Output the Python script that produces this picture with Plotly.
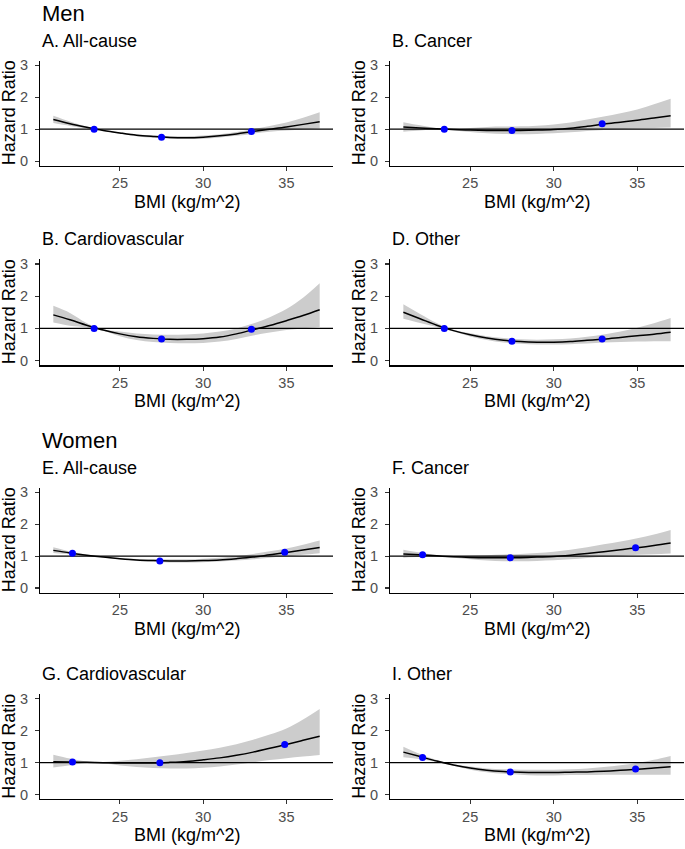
import plotly.graph_objects as go

# ---------------- data ----------------
BMI_GRID = [21, 22, 23, 24, 25, 26, 27, 28, 29, 30, 31, 32, 33, 34, 35, 36, 37]

PANEL_TITLES = ["A. All-cause", "B. Cancer", "B. Cardiovascular", "D. Other",
                "E. All-cause", "F. Cancer", "G. Cardiovascular", "I. Other"]
GROUP_TITLES = ["Men", "Women"]

# Men
A_hr = [1.30, 1.17, 1.06, 0.96, 0.88, 0.81, 0.77, 0.74, 0.73, 0.75, 0.79, 0.85, 0.93, 1.00, 1.07, 1.15, 1.23]
A_hi = [1.42, 1.24, 1.08, 0.97, 0.90, 0.84, 0.80, 0.78, 0.78, 0.80, 0.84, 0.91, 1.00, 1.10, 1.21, 1.36, 1.53]
A_lo = [1.19, 1.10, 1.03, 0.95, 0.86, 0.78, 0.73, 0.70, 0.69, 0.70, 0.74, 0.79, 0.86, 0.92, 0.96, 0.99, 1.02]

B_hr = [1.07, 1.04, 1.01, 0.99, 0.97, 0.96, 0.96, 0.96, 0.97, 0.99, 1.03, 1.09, 1.16, 1.22, 1.28, 1.35, 1.42]
B_hi = [1.22, 1.12, 1.03, 1.01, 1.04, 1.07, 1.08, 1.09, 1.11, 1.15, 1.21, 1.30, 1.40, 1.50, 1.62, 1.78, 1.95]
B_lo = [0.92, 0.96, 0.99, 0.96, 0.91, 0.87, 0.85, 0.84, 0.85, 0.87, 0.90, 0.94, 0.97, 1.00, 1.02, 1.04, 1.05]

C_hr = [1.42, 1.27, 1.10, 0.95, 0.83, 0.74, 0.69, 0.66, 0.66, 0.68, 0.73, 0.83, 0.96, 1.09, 1.24, 1.40, 1.58]
C_hi = [1.70, 1.48, 1.17, 0.97, 0.90, 0.84, 0.81, 0.80, 0.81, 0.84, 0.90, 1.00, 1.15, 1.35, 1.60, 1.95, 2.40]
C_lo = [1.18, 1.08, 1.03, 0.93, 0.76, 0.64, 0.58, 0.55, 0.54, 0.55, 0.59, 0.67, 0.78, 0.87, 0.95, 1.00, 1.04]

D_hr = [1.50, 1.30, 1.10, 0.93, 0.80, 0.70, 0.63, 0.59, 0.57, 0.57, 0.59, 0.63, 0.67, 0.72, 0.77, 0.82, 0.88]
D_hi = [1.75, 1.45, 1.17, 0.96, 0.85, 0.76, 0.70, 0.66, 0.65, 0.66, 0.69, 0.74, 0.81, 0.90, 1.02, 1.16, 1.32]
D_lo = [1.30, 1.17, 1.04, 0.90, 0.75, 0.64, 0.56, 0.52, 0.50, 0.50, 0.51, 0.53, 0.56, 0.58, 0.59, 0.60, 0.60]

# Women
E_hr = [1.18, 1.10, 1.03, 0.97, 0.92, 0.88, 0.86, 0.85, 0.85, 0.86, 0.88, 0.92, 0.97, 1.04, 1.11, 1.19, 1.27]
E_hi = [1.28, 1.15, 1.05, 0.98, 0.94, 0.91, 0.90, 0.90, 0.90, 0.92, 0.95, 1.00, 1.07, 1.15, 1.24, 1.36, 1.49]
E_lo = [1.10, 1.06, 1.01, 0.96, 0.90, 0.85, 0.82, 0.80, 0.80, 0.81, 0.83, 0.86, 0.90, 0.95, 1.00, 1.04, 1.09]

F_hr = [1.07, 1.04, 1.01, 0.98, 0.96, 0.95, 0.95, 0.95, 0.97, 0.99, 1.03, 1.08, 1.14, 1.20, 1.26, 1.33, 1.41]
F_hi = [1.20, 1.11, 1.03, 1.00, 1.01, 1.03, 1.05, 1.07, 1.10, 1.14, 1.20, 1.28, 1.37, 1.46, 1.56, 1.68, 1.82]
F_lo = [0.95, 0.98, 0.99, 0.95, 0.90, 0.86, 0.84, 0.84, 0.85, 0.87, 0.90, 0.94, 0.98, 1.01, 1.04, 1.06, 1.08]

G_hr = [1.03, 1.02, 1.01, 1.00, 0.99, 0.99, 0.99, 1.01, 1.04, 1.09, 1.15, 1.23, 1.33, 1.45, 1.57, 1.70, 1.83]
G_hi = [1.25, 1.13, 1.04, 1.02, 1.06, 1.11, 1.17, 1.23, 1.30, 1.38, 1.47, 1.58, 1.72, 1.88, 2.07, 2.35, 2.68]
G_lo = [0.85, 0.92, 0.98, 0.97, 0.91, 0.86, 0.83, 0.82, 0.82, 0.84, 0.88, 0.94, 1.01, 1.08, 1.14, 1.19, 1.24]

I_hr = [1.33, 1.19, 1.05, 0.93, 0.83, 0.76, 0.72, 0.70, 0.69, 0.69, 0.70, 0.71, 0.73, 0.76, 0.79, 0.83, 0.87]
I_hi = [1.50, 1.27, 1.08, 0.95, 0.88, 0.82, 0.79, 0.78, 0.78, 0.78, 0.79, 0.82, 0.86, 0.92, 0.99, 1.09, 1.21]
I_lo = [1.17, 1.11, 1.02, 0.90, 0.78, 0.70, 0.65, 0.62, 0.60, 0.60, 0.61, 0.61, 0.62, 0.62, 0.62, 0.62, 0.62]

MEN_POINT_BMI = [23.45, 27.5, 32.9]
WOMEN_POINT_BMI = [22.15, 27.4, 34.9]
A_pts = [1.00, 0.75, 0.93]
B_pts = [1.00, 0.96, 1.17]
C_pts = [1.00, 0.67, 0.97]
D_pts = [1.00, 0.60, 0.67]
E_pts = [1.09, 0.85, 1.12]
F_pts = [1.04, 0.95, 1.26]
G_pts = [1.02, 1.00, 1.57]
I_pts = [1.16, 0.71, 0.80]

REF_HR = 1
X_TICKS = [25, 30, 35]
Y_TICKS = [0, 1, 2, 3]
X_TITLE = "BMI (kg/m^2)"
Y_TITLE = "Hazard Ratio"

panels = [
    (A_hr, A_lo, A_hi, MEN_POINT_BMI, A_pts),
    (B_hr, B_lo, B_hi, MEN_POINT_BMI, B_pts),
    (C_hr, C_lo, C_hi, MEN_POINT_BMI, C_pts),
    (D_hr, D_lo, D_hi, MEN_POINT_BMI, D_pts),
    (E_hr, E_lo, E_hi, WOMEN_POINT_BMI, E_pts),
    (F_hr, F_lo, F_hi, WOMEN_POINT_BMI, F_pts),
    (G_hr, G_lo, G_hi, WOMEN_POINT_BMI, G_pts),
    (I_hr, I_lo, I_hi, WOMEN_POINT_BMI, I_pts),
]

# ---------------- layout geometry (pixels) ----------------
W, H = 685, 849
COLS = [(40, 333), (390, 684)]
ROWS = [(58, 164), (258, 365), (488, 594), (696, 802)]
X_RANGE = [20.2, 37.8]
Y_RANGE = [-0.15, 3.15]
FONT = "Liberation Sans, Arial, sans-serif"
RIBBON = "#CCCCCC"

fig = go.Figure()
layout = dict(
    width=W, height=H, autosize=False,
    margin=dict(l=0, r=0, t=0, b=0),
    paper_bgcolor="white", plot_bgcolor="white",
    showlegend=False,
    font=dict(family=FONT, color="black"),
)
annotations = []

for i, (hr, lo, hi, px, py) in enumerate(panels):
    r, c = divmod(i, 2)
    x0, x1 = COLS[c]
    top, bot = ROWS[r]
    n = i + 1
    xa = "x" if n == 1 else f"x{n}"
    ya = "y" if n == 1 else f"y{n}"
    xkey = "xaxis" if n == 1 else f"xaxis{n}"
    ykey = "yaxis" if n == 1 else f"yaxis{n}"

    fig.add_trace(go.Scatter(x=BMI_GRID, y=lo, mode="lines", line=dict(width=0, shape="spline"),
                             hoverinfo="skip", xaxis=xa, yaxis=ya))
    fig.add_trace(go.Scatter(x=BMI_GRID, y=hi, mode="lines", line=dict(width=0, shape="spline"),
                             fill="tonexty", fillcolor=RIBBON, hoverinfo="skip", xaxis=xa, yaxis=ya))
    fig.add_trace(go.Scatter(x=X_RANGE, y=[REF_HR, REF_HR], mode="lines",
                             line=dict(color="black", width=1.2), xaxis=xa, yaxis=ya))
    fig.add_trace(go.Scatter(x=BMI_GRID, y=hr, mode="lines",
                             line=dict(color="black", width=1.5, shape="spline"), xaxis=xa, yaxis=ya))
    fig.add_trace(go.Scatter(x=px, y=py, mode="markers",
                             marker=dict(color="#0000FF", size=7), xaxis=xa, yaxis=ya))

    axis_common = dict(showline=True, linecolor="black", linewidth=1.1, ticks="outside",
                       ticklen=4, tickwidth=1.1, tickcolor="#333333", showgrid=False,
                       zeroline=False, fixedrange=True,
                       tickfont=dict(family=FONT, size=14.5, color="#4D4D4D"))
    layout[xkey] = dict(axis_common, domain=[x0 / W, x1 / W], range=X_RANGE,
                        tickvals=X_TICKS, anchor=ya)
    layout[ykey] = dict(axis_common, domain=[1 - bot / H, 1 - top / H], range=Y_RANGE,
                        tickvals=Y_TICKS, anchor=xa, ticklabelstandoff=4)

    # panel title
    annotations.append(dict(text=PANEL_TITLES[i], xref="paper", yref="paper",
                            x=x0 / W, y=1 - (top - 20) / H, xanchor="left", yanchor="middle",
                            showarrow=False, font=dict(family=FONT, size=18, color="black")))
    # x title
    annotations.append(dict(text=X_TITLE, xref="paper", yref="paper",
                            x=(x0 + x1) / 2 / W, y=1 - (bot + 36) / H, xanchor="center",
                            yanchor="middle", showarrow=False,
                            font=dict(family=FONT, size=18, color="black")))
    # y title
    annotations.append(dict(text=Y_TITLE, xref="paper", yref="paper", textangle=-90,
                            x=(x0 - 31) / W, y=1 - (top + bot) / 2 / H, xanchor="center",
                            yanchor="middle", showarrow=False,
                            font=dict(family=FONT, size=18, color="black")))

# group titles
for g, ypx in zip(GROUP_TITLES, [11, 441]):
    annotations.append(dict(text=g, xref="paper", yref="paper", x=COLS[0][0] / W,
                            y=1 - ypx / H, xanchor="left", yanchor="middle", showarrow=False,
                            font=dict(family=FONT, size=22, color="black")))

layout["annotations"] = annotations
fig.update_layout(**layout)
fig.write_html(
    "out.html",
    config={"displayModeBar": False, "staticPlot": True},
    post_script="document.body.style.margin='0';document.body.style.padding='0';document.body.style.overflow='hidden';",
)
